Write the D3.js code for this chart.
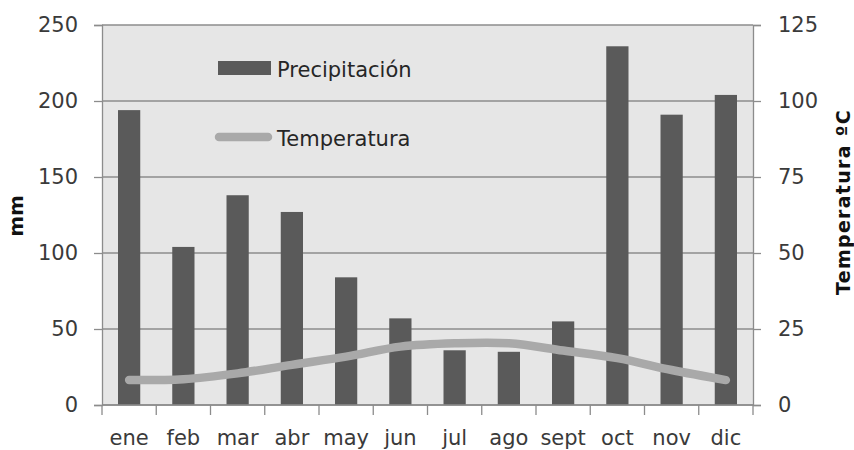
<!DOCTYPE html>
<html>
<head>
<meta charset="utf-8">
<script src="https://cdn.jsdelivr.net/npm/d3@7"></script>
<style>
  html, body { margin: 0; padding: 0; background: #ffffff; }
  svg { display: block; }
  text { font-family: "DejaVu Sans", Verdana, sans-serif; }
</style>
</head>
<body>
<svg id="chart" width="854" height="450"></svg>
<script>
// Climograma: precipitación mensual (barras, eje izquierdo) y temperatura media (línea, eje derecho)
const meses = ["ene", "feb", "mar", "abr", "may", "jun", "jul", "ago", "sept", "oct", "nov", "dic"];
const precipitacion = [194, 104, 138, 127, 84, 57, 36, 35, 55, 236, 191, 204];
const temperatura = [8.2, 8.5, 10.4, 13.2, 15.9, 19.2, 20.3, 20.3, 17.9, 15.4, 11.5, 8.2];
const ticksMm = [0, 50, 100, 150, 200, 250];
const ticksTemp = [0, 25, 50, 75, 100, 125];

const W = 854, H = 450;
const margin = { top: 25, right: 101, bottom: 45, left: 102 };
const x0 = margin.left, x1 = W - margin.right;
const y0 = H - margin.bottom, y1 = margin.top;

const colBar = "#5a5a5a";
const colLine = "#a9a9a9";
const colGrid = "#8c8c8c";
const colText = "#3a3a3a";

const svg = d3.select("#chart");

const x = d3.scaleBand().domain(meses).range([x0, x1]);
const yL = d3.scaleLinear().domain([0, 250]).range([y0, y1]);
const yR = d3.scaleLinear().domain([0, 125]).range([y0, y1]);

// Fondo del área de trazado
svg.append("rect")
  .attr("x", x0).attr("y", y1)
  .attr("width", x1 - x0).attr("height", y0 - y1)
  .attr("fill", "#e6e6e6");

// Líneas de división horizontales
svg.append("g")
  .selectAll("line")
  .data(ticksMm)
  .join("line")
  .attr("x1", x0).attr("x2", x1)
  .attr("y1", d => yL(d)).attr("y2", d => yL(d))
  .attr("stroke", colGrid).attr("stroke-width", 1.3);

// Barras de precipitación
const barW = x.step() * 0.41;
svg.append("g")
  .selectAll("rect")
  .data(meses)
  .join("rect")
  .attr("x", (d) => x(d) + x.bandwidth() / 2 - barW / 2)
  .attr("y", (d, i) => yL(precipitacion[i]))
  .attr("width", barW)
  .attr("height", (d, i) => yL(0) - yL(precipitacion[i]))
  .attr("fill", colBar);

// Línea suavizada de temperatura
const line = d3.line()
  .x((d, i) => x(meses[i]) + x.bandwidth() / 2)
  .y(d => yR(d))
  .curve(d3.curveCatmullRom.alpha(0));
svg.append("path")
  .datum(temperatura)
  .attr("d", line)
  .attr("fill", "none")
  .attr("stroke", colLine)
  .attr("stroke-width", 8.5)
  .attr("stroke-linecap", "round")
  .attr("stroke-linejoin", "round");

// Eje izquierdo (mm)
const axL = svg.append("g")
  .attr("transform", `translate(${x0},0)`)
  .call(d3.axisLeft(yL).tickValues(ticksMm).tickSize(8).tickPadding(16));
// Eje derecho (ºC)
const axR = svg.append("g")
  .attr("transform", `translate(${x1},0)`)
  .call(d3.axisRight(yR).tickValues(ticksTemp).tickSize(8).tickPadding(17));
// Eje inferior (meses)
const axB = svg.append("g")
  .attr("transform", `translate(0,${y0})`)
  .call(d3.axisBottom(x).tickSize(0).tickPadding(25));

[axL, axR, axB].forEach(ax => {
  ax.select(".domain").attr("stroke", colGrid).attr("stroke-width", 1.3);
  ax.selectAll(".tick line").attr("stroke", colGrid).attr("stroke-width", 1.3);
  ax.selectAll(".tick text")
    .attr("fill", colText)
    .style("font-size", "21px")
    .style("font-family", "'DejaVu Sans', Verdana, sans-serif");
});
axB.select(".domain").attr("d", `M${x0},0H${x1}`);

// Marcas entre categorías del eje inferior
const bordes = meses.map(m => x(m)).concat([x.range()[1]]);
axB.append("g")
  .selectAll("line")
  .data(bordes)
  .join("line")
  .attr("x1", d => d).attr("x2", d => d)
  .attr("y1", 0).attr("y2", 10)
  .attr("stroke", colGrid).attr("stroke-width", 1.3);

// Títulos de los ejes
svg.append("text")
  .attr("transform", `translate(16,${(y0 + y1) / 2 + 1}) rotate(-90)`)
  .attr("text-anchor", "middle")
  .attr("dominant-baseline", "central")
  .style("font-size", "20px").style("font-weight", "bold")
  .attr("fill", "#111")
  .text("mm");
svg.append("text")
  .attr("transform", `translate(843,${(y0 + y1) / 2 - 13}) rotate(-90)`)
  .attr("text-anchor", "middle")
  .attr("dominant-baseline", "central")
  .style("font-size", "19px").style("font-weight", "bold")
  .style("letter-spacing", "1.3px")
  .attr("fill", "#111")
  .text("Temperatura ºC");

// Leyenda
const leg = svg.append("g");
leg.append("rect")
  .attr("x", 218).attr("y", 61).attr("width", 53).attr("height", 14)
  .attr("fill", colBar);
leg.append("text")
  .attr("x", 277).attr("y", 77)
  .style("font-size", "21px").attr("fill", "#262626")
  .text("Precipitación");
leg.append("line")
  .attr("x1", 219).attr("x2", 268).attr("y1", 137).attr("y2", 137)
  .attr("stroke", colLine).attr("stroke-width", 8.5).attr("stroke-linecap", "round");
leg.append("text")
  .attr("x", 277).attr("y", 146)
  .style("font-size", "21px").attr("fill", "#262626")
  .text("Temperatura");
</script>
</body>
</html>
